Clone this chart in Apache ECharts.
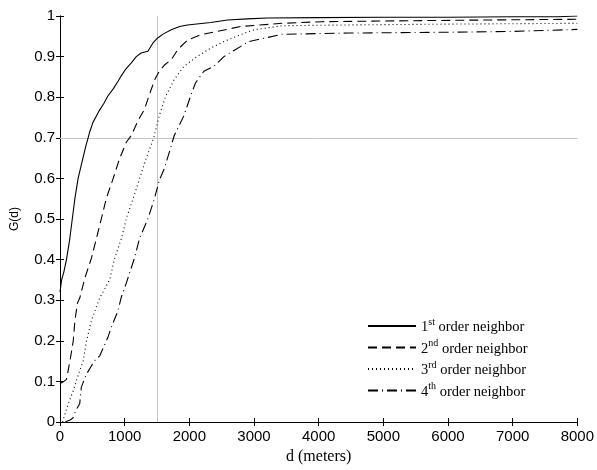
<!DOCTYPE html>
<html>
<head>
<meta charset="utf-8">
<script src="https://cdn.jsdelivr.net/npm/echarts@6/dist/echarts.min.js"></script>
<style>
  html, body { margin: 0; padding: 0; background: #fff; }
  #chart { width: 597px; height: 470px; }
</style>
</head>
<body>
<div id="chart"></div>
<script>
// Cumulative nearest-neighbour distance functions G(d), d in meters
const d1 = [0, 25, 60, 100, 150, 190, 230, 280, 340, 400, 435, 460, 510, 600, 680, 740, 820, 900, 945, 1020, 1100, 1180, 1255, 1360, 1435, 1510, 1600, 1720, 1850, 1970, 2150, 2330, 2590, 2900, 3200, 4000, 5000, 6000, 7000, 7700, 7720, 8000];
const g1 = [0.32, 0.35, 0.37, 0.40, 0.45, 0.50, 0.55, 0.60, 0.64, 0.68, 0.70, 0.715, 0.738, 0.765, 0.785, 0.803, 0.82, 0.84, 0.852, 0.87, 0.884, 0.90, 0.909, 0.913, 0.933, 0.946, 0.956, 0.966, 0.974, 0.978, 0.981, 0.984, 0.99, 0.993, 0.995, 0.996, 0.997, 0.997, 0.998, 0.998, 1, 1];

const d2 = [0, 60, 100, 130, 155, 205, 230, 270, 307, 385, 485, 560, 640, 715, 820, 920, 1025, 1100, 1200, 1305, 1410, 1470, 1535, 1620, 1720, 1820, 1975, 2180, 2430, 2790, 3430, 4050, 5180, 6500, 8000];
const g2 = [0.095, 0.10, 0.105, 0.13, 0.151, 0.20, 0.249, 0.293, 0.306, 0.355, 0.403, 0.45, 0.501, 0.55, 0.599, 0.648, 0.689, 0.705, 0.74, 0.77, 0.819, 0.845, 0.864, 0.88, 0.892, 0.917, 0.941, 0.954, 0.962, 0.974, 0.982, 0.986, 0.988, 0.99, 0.992];

const d3 = [40, 77, 140, 205, 280, 360, 410, 485, 615, 700, 770, 845, 950, 1025, 1130, 1230, 1330, 1450, 1535, 1635, 1765, 1915, 2120, 2330, 2535, 2790, 3000, 3430, 4460, 6000, 8000];
const g3 = [0.0, 0.02, 0.05, 0.077, 0.115, 0.151, 0.20, 0.249, 0.306, 0.33, 0.352, 0.403, 0.452, 0.501, 0.55, 0.599, 0.648, 0.70, 0.754, 0.803, 0.843, 0.876, 0.90, 0.921, 0.937, 0.954, 0.966, 0.976, 0.978, 0.98, 0.982];

const d4 = [80, 155, 200, 250, 305, 330, 410, 535, 615, 740, 790, 895, 945, 1025, 1050, 1150, 1230, 1360, 1460, 1535, 1610, 1690, 1765, 1915, 2020, 2095, 2225, 2380, 2535, 2710, 2920, 3430, 4460, 6000, 7000, 8000];
const g4 = [0, 0.005, 0.01, 0.03, 0.045, 0.086, 0.118, 0.151, 0.163, 0.208, 0.232, 0.273, 0.306, 0.342, 0.346, 0.403, 0.452, 0.501, 0.55, 0.595, 0.623, 0.664, 0.705, 0.754, 0.803, 0.835, 0.864, 0.876, 0.90, 0.917, 0.937, 0.955, 0.958, 0.96, 0.962, 0.967];

// Legend labels: ordinal number, superscript suffix
const ordNum = ['1', '2', '3', '4'];
const ordSup = ['st', 'nd', 'rd', 'th'];
const seriesNames = ['1st order neighbor', '2nd order neighbor', '3rd order neighbor', '4th order neighbor'];

// Reference cross-hair
const refD = 1500;
const refG = 0.705;

// Axis ranges
const xRange = [0, 8000, 1000];
const yRange = [0, 1, 0.1];

const pair = (xs, ys) => xs.map((x, i) => [x, ys[i]]);
const dashes = ['solid', [9, 5], [1, 3], [10, 4, 1, 4]];
const curves = [pair(d1, g1), pair(d2, g2), pair(d3, g3), pair(d4, g4)];

const tickFont = { fontFamily: 'Liberation Sans', fontSize: 15, color: '#000' };

function frameAxis(extra) {
  return Object.assign({
    type: 'value',
    axisLine: { show: true, lineStyle: { color: '#000', width: 1 } },
    axisTick: { show: true, inside: true, length: 4, lineStyle: { color: '#000' } },
    splitLine: { show: false }
  }, extra);
}

const series = curves.map((data, i) => ({
  name: seriesNames[i],
  type: 'line',
  data: data,
  showSymbol: false,
  symbol: 'none',
  animation: false,
  itemStyle: { color: '#000' },
  lineStyle: { color: '#000', width: 1.1, type: dashes[i] },
  z: 3
}));

series[0].markLine = {
  silent: true,
  symbol: 'none',
  animation: false,
  label: { show: false },
  lineStyle: { color: '#c4c4c4', width: 1, type: 'solid' },
  data: [{ xAxis: refD }, { yAxis: refG }],
  z: 1
};

const chart = echarts.init(document.getElementById('chart'), null, { renderer: 'canvas' });
chart.setOption({
  animation: false,
  backgroundColor: '#fff',
  grid: { left: 60, right: 17, top: 16, bottom: 45, containLabel: false },
  xAxis: [
    frameAxis({
      position: 'bottom',
      min: xRange[0], max: xRange[1], interval: xRange[2],
      axisLabel: Object.assign({ margin: 7, formatter: v => String(v) }, tickFont),
      name: 'd (meters)',
      nameLocation: 'middle',
      nameGap: 27,
      nameTextStyle: { fontFamily: 'Liberation Serif', fontSize: 16, color: '#000' }
    }),
    frameAxis({
      position: 'top',
      min: xRange[0], max: xRange[1], interval: xRange[2],
      axisLabel: { show: false }
    })
  ],
  yAxis: [
    frameAxis({
      position: 'left',
      min: yRange[0], max: yRange[1], interval: yRange[2],
      axisLabel: Object.assign({ margin: 5, formatter: v => String(v) }, tickFont),
      name: 'G(d)',
      nameLocation: 'middle',
      nameGap: 39,
      nameRotate: 90,
      nameTextStyle: { fontFamily: 'Liberation Sans', fontSize: 12, color: '#000' }
    }),
    frameAxis({
      position: 'right',
      min: yRange[0], max: yRange[1], interval: yRange[2],
      axisLabel: { show: false }
    })
  ],
  legend: {
    orient: 'vertical',
    left: 362,
    top: 312,
    itemWidth: 48,
    itemHeight: 14,
    itemGap: 3.5,
    itemStyle: { opacity: 0 },
    data: seriesNames,
    formatter: function (name) {
      const i = seriesNames.indexOf(name);
      return '{n|' + ordNum[i] + '}{s|' + ordSup[i] + '}{n| order neighbor}';
    },
    textStyle: {
      rich: {
        n: { fontFamily: 'Liberation Serif', fontSize: 14.5, color: '#000', lineHeight: 18, verticalAlign: 'bottom' },
        s: { fontFamily: 'Liberation Serif', fontSize: 10, color: '#000', lineHeight: 11, verticalAlign: 'top' }
      }
    }
  },
  series: series
});
</script>
</body>
</html>
